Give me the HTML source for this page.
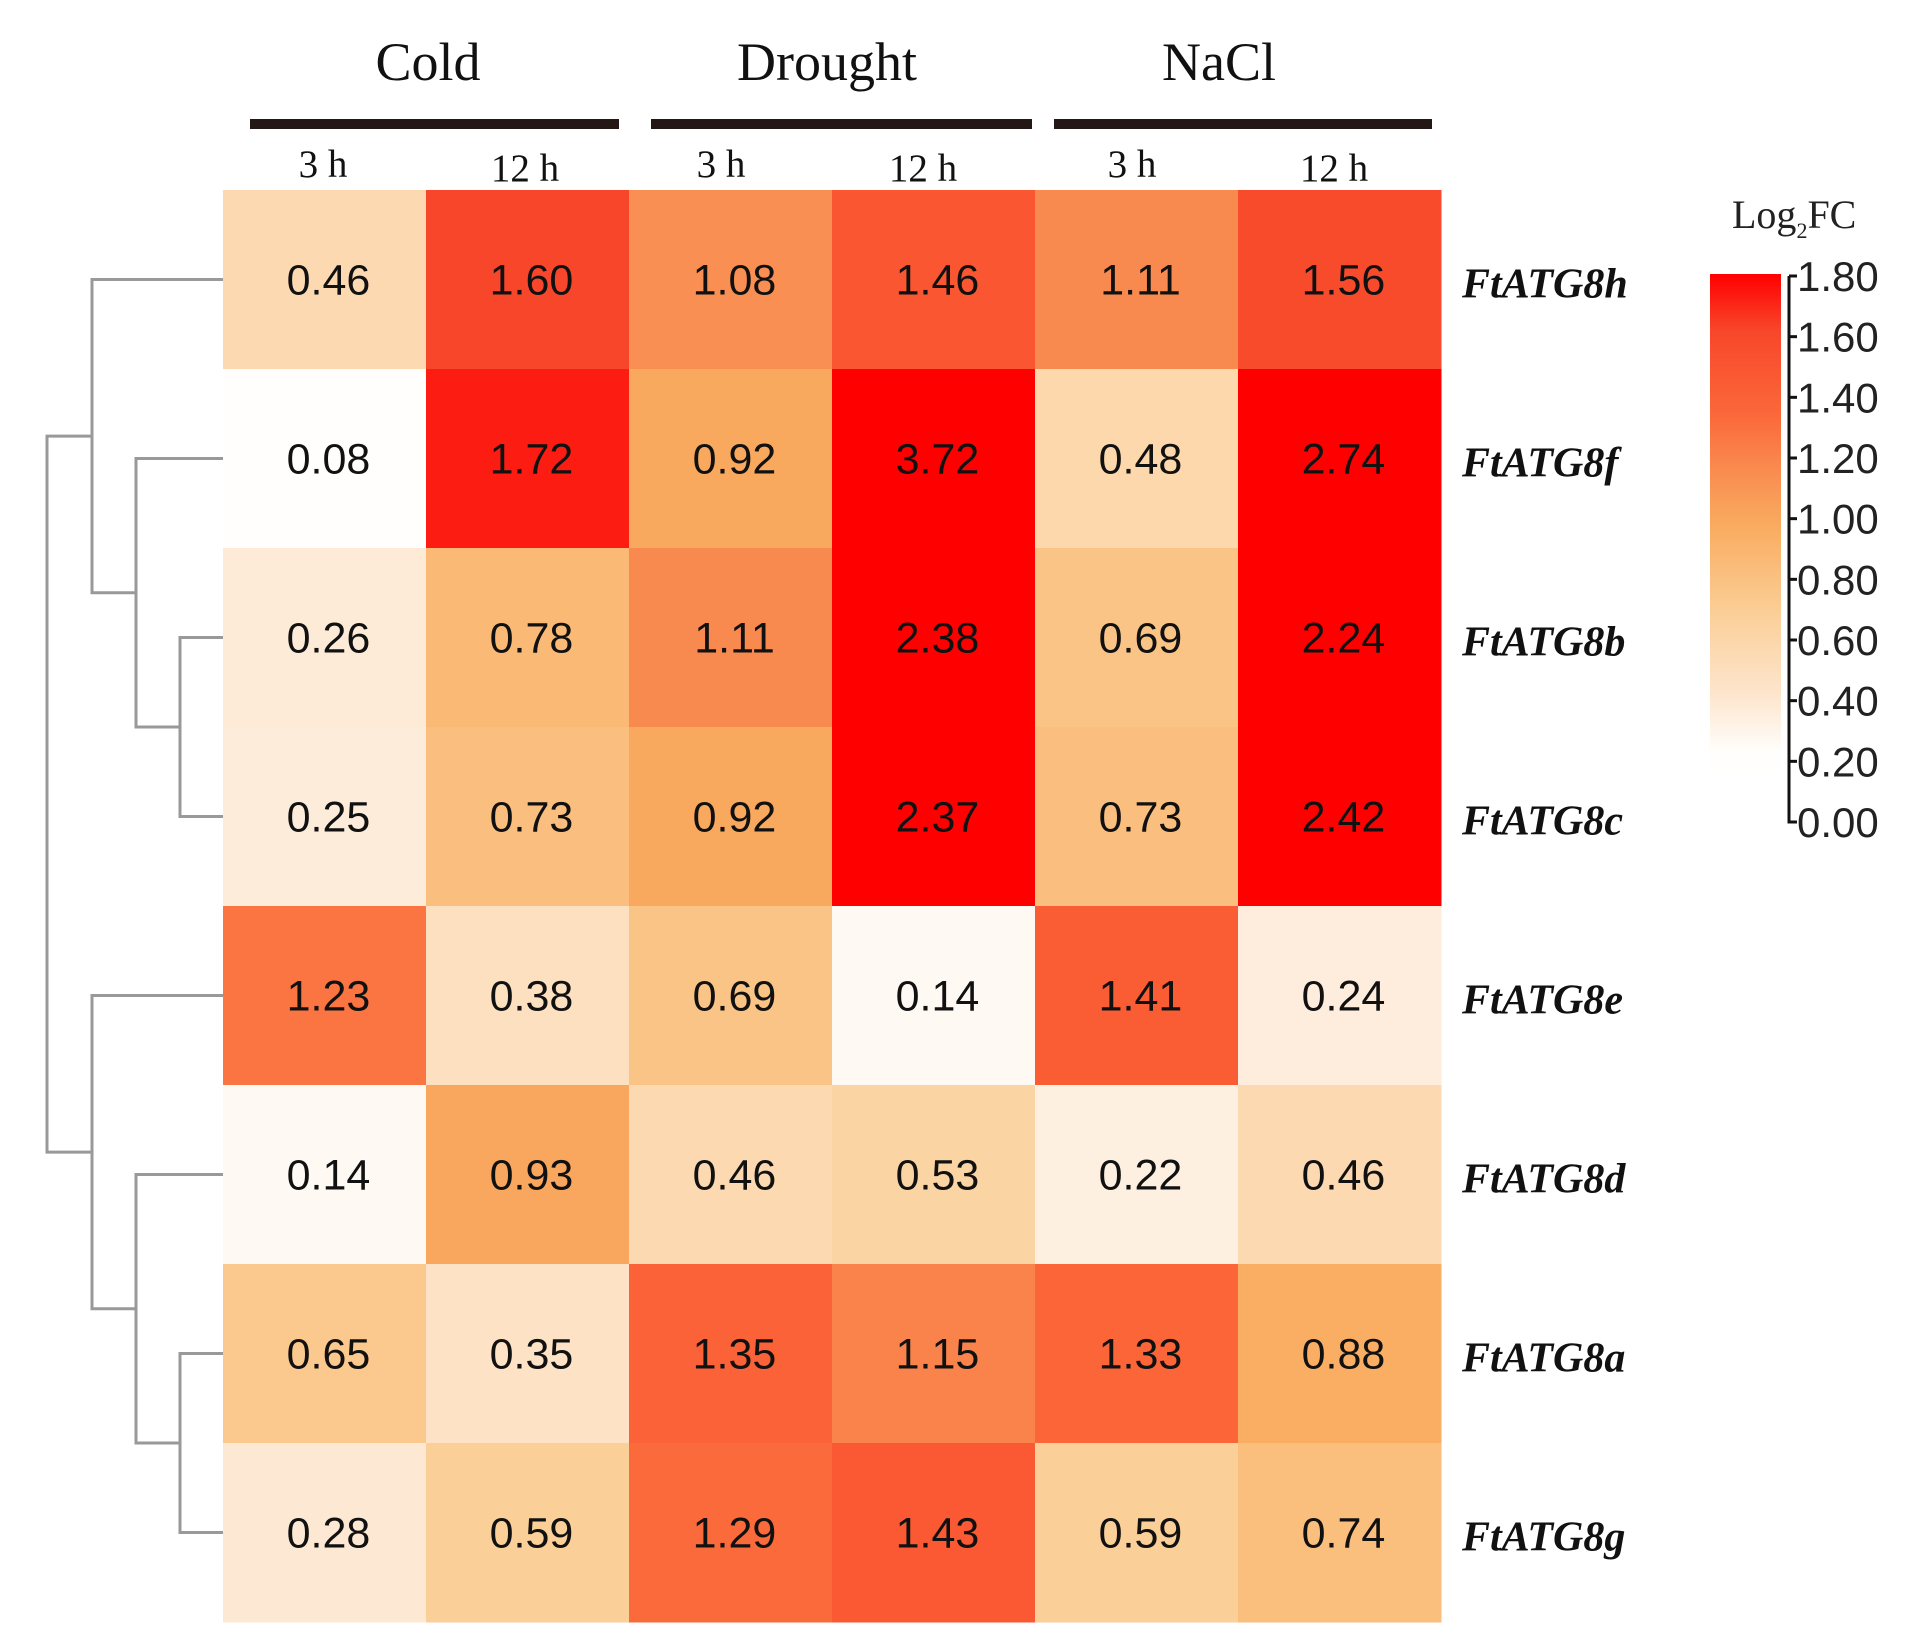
<!DOCTYPE html>
<html><head><meta charset="utf-8"><style>
html,body{margin:0;padding:0;background:#fff;}
svg{display:block;}
</style></head><body>
<svg id="chart" width="1907" height="1648" viewBox="0 0 1907 1648" xmlns="http://www.w3.org/2000/svg"></svg>
<script>
const genes = ["FtATG8h","FtATG8f","FtATG8b","FtATG8c","FtATG8e","FtATG8d","FtATG8a","FtATG8g"];
const groups = ["Cold","Drought","NaCl"];
const times = ["3 h","12 h","3 h","12 h","3 h","12 h"];
const values = [
 [0.46,1.60,1.08,1.46,1.11,1.56],
 [0.08,1.72,0.92,3.72,0.48,2.74],
 [0.26,0.78,1.11,2.38,0.69,2.24],
 [0.25,0.73,0.92,2.37,0.73,2.42],
 [1.23,0.38,0.69,0.14,1.41,0.24],
 [0.14,0.93,0.46,0.53,0.22,0.46],
 [0.65,0.35,1.35,1.15,1.33,0.88],
 [0.28,0.59,1.29,1.43,0.59,0.74]
];
const legendTicks = ["0.00","0.20","0.40","0.60","0.80","1.00","1.20","1.40","1.60","1.80"];

const NS="http://www.w3.org/2000/svg";
const svg=document.getElementById('chart');
function mk(tag,attrs){const e=document.createElementNS(NS,tag);for(const k in attrs)e.setAttribute(k,attrs[k]);svg.appendChild(e);return e;}
const X0=223,Y0=190,CW=203,RH=179;
const xPos=c=>X0+c*CW, yPos=r=>Y0+r*RH;
const stops=[[0,[255,255,255]],[0.1,[255,254,252]],[0.3,[253,230,206]],[0.6,[251,206,150]],[0.9,[249,172,96]],[1.1,[249,140,80]],[1.3,[251,104,58]],[1.6,[248,70,42]],[1.8,[255,0,0]]];
function color(v){v=Math.max(0,Math.min(1.8,v));for(let i=1;i<stops.length;i++){if(v<=stops[i][0]){const a=stops[i-1],b=stops[i],t=(v-a[0])/(b[0]-a[0]);const c=a[1].map((x,j)=>Math.round(x+(b[1][j]-x)*t));return `rgb(${c.join(',')})`;}}return 'rgb(255,0,0)';}

values.forEach((row,r)=>row.forEach((v,c)=>{
 const rect=mk('rect',{x:xPos(c),y:yPos(r),width:CW+0.5,height:RH+0.5,fill:color(v)});
 
 
 const t=mk('text',{x:xPos(c)+CW/2+4,y:yPos(r)+RH/2+15,'text-anchor':'middle','font-family':'Liberation Sans, sans-serif','font-size':43,fill:'#111'});
 t.textContent=v.toFixed(2);
 
 
}));
genes.forEach((g,r)=>{
 const t=mk('text',{x:1462,y:yPos(r)+RH/2+18,'font-family':'Liberation Serif, serif','font-size':42,'font-weight':'bold','font-style':'italic',fill:'#111'});
 t.textContent=g;
 
 
});
const gc=[428,827,1219];
const gx=[[250,619],[651,1032],[1054,1432]];
groups.forEach((g,i)=>{
 const t=mk('text',{x:gc[i],y:80,'text-anchor':'middle','font-family':'Liberation Serif, serif','font-size':54,fill:'#111'});
 t.textContent=g;
 
 
 const b=mk('rect',{x:gx[i][0],y:119,width:gx[i][1]-gx[i][0],height:10,fill:'#231815'});
 
 
});
const tc=[323,525,721,923,1132,1334];
times.forEach((tm,c)=>{
 const t=mk('text',{x:tc[c],y:c%2?181:177,'text-anchor':'middle','font-family':'Liberation Serif, serif','font-size':39,fill:'#111'});
 t.textContent=tm;
 
 
});
// dendrogram
const cy=r=>yPos(r)+RH/2;
const L=[180,136,92,47];
function seg(pts){const p=mk('polyline',{points:pts.map(q=>q.join(',')).join(' '),fill:'none',stroke:'#999',"stroke-width":3});}
const bc=(cy(2)+cy(3))/2; seg([[X0,cy(2)],[L[0],cy(2)],[L[0],cy(3)],[X0,cy(3)]]);
const fbc=(cy(1)+bc)/2; seg([[X0,cy(1)],[L[1],cy(1)],[L[1],bc],[L[0],bc]]);
const hfbc=(cy(0)+fbc)/2; seg([[X0,cy(0)],[L[2],cy(0)],[L[2],fbc],[L[1],fbc]]);
const ag=(cy(6)+cy(7))/2; seg([[X0,cy(6)],[L[0],cy(6)],[L[0],cy(7)],[X0,cy(7)]]);
const dag=(cy(5)+ag)/2; seg([[X0,cy(5)],[L[1],cy(5)],[L[1],ag],[L[0],ag]]);
const edag=(cy(4)+dag)/2; seg([[X0,cy(4)],[L[2],cy(4)],[L[2],dag],[L[1],dag]]);
seg([[L[2],hfbc],[L[3],hfbc],[L[3],edag],[L[2],edag]]);
// legend
const defs=mk('defs',{});
const lg=document.createElementNS(NS,'linearGradient');lg.setAttribute('id','lg');lg.setAttribute('x1','0');lg.setAttribute('y1','1');lg.setAttribute('x2','0');lg.setAttribute('y2','0');defs.appendChild(lg);
stops.forEach(s=>{const st=document.createElementNS(NS,'stop');st.setAttribute('offset',s[0]/1.8);st.setAttribute('stop-color',color(s[0]));lg.appendChild(st);});
const LT=276,LB=822,LX=1718,LR=1789;
const lr=mk('rect',{x:LX-8,y:LT-2,width:LR-LX,height:LB-LT-40,fill:'url(#lg)'});


const ax=mk('polyline',{points:`${LR},${LT} ${LR},${LB} ${LR+5},${LB}`,fill:'none',stroke:'#111','stroke-width':3});


legendTicks.forEach((lab,i)=>{
 const y=LB-(parseFloat(lab)/1.8)*(LB-LT);
 const tk=mk('line',{x1:LR,x2:LR+8,y1:y,y2:y,stroke:'#111','stroke-width':3});
 
 
 const t=mk('text',{x:LR+8,y:y+15,'font-family':'Liberation Sans, sans-serif','font-size':42,fill:'#222'});
 t.textContent=lab;
 
 
});
const tt=mk('text',{x:1732,y:228,'font-family':'Liberation Serif, serif','font-size':40,fill:'#222'});
tt.innerHTML='Log<tspan font-size="22" dy="10">2</tspan><tspan dy="-10">FC</tspan>';


</script>
</body></html>
